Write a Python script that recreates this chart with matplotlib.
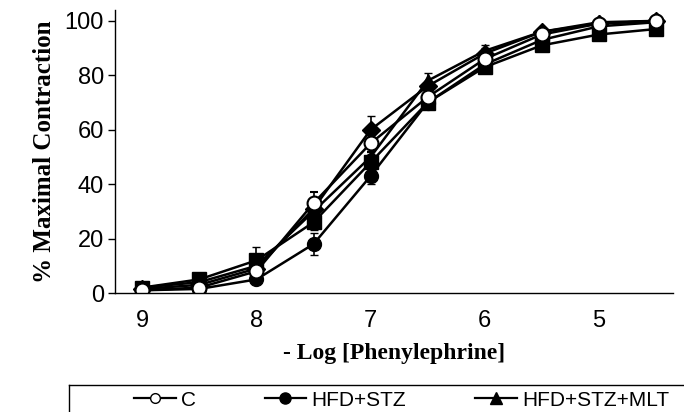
import matplotlib.pyplot as plt
from matplotlib.lines import Line2D

# -log concentration of phenylephrine
log_conc = [9, 8.5, 8, 7.5, 7, 6.5, 6, 5.5, 5, 4.5]

# % maximal contraction
c_vals = [1, 2, 8, 33, 55, 72, 86, 95, 99, 100]
hfd_stz = [1, 1.5, 5, 18, 43, 70, 84, 93, 98, 99.5]
hfd_stz_mlt = [2, 4, 10, 30, 50, 78, 89, 96, 99.5, 100]
sq_vals = [2, 5, 12, 26, 48, 70, 83, 91, 95, 97]
dia_vals = [1.5, 3, 9, 31, 60, 76, 88, 96, 99, 100]

c_err = [0.5, 1, 1, 4, 3, 2, 2, 1, 1, 0.5]
hfd_stz_err = [0.5, 1, 1, 4, 3, 2, 2, 1, 1, 0.5]
hfd_stz_mlt_err = [0.5, 1, 2, 3, 3, 3, 2, 1, 1, 0.5]
sq_err = [0.5, 1, 5, 3, 3, 2, 2, 2, 1, 1]
dia_err = [0.5, 1, 2, 3, 5, 2, 2, 1, 1, 0.5]

y_ticks = [0, 20, 40, 60, 80, 100]
x_ticks = [9, 8, 7, 6, 5]

fig = plt.figure(figsize=(6.84, 4.12), dpi=100)
ax = fig.add_axes([115 / 684, 1 - 293 / 412, (673 - 115) / 684, (293 - 10) / 412])

common = dict(color='black', linewidth=1.8, capsize=3, elinewidth=1.2, markersize=10)
ax.errorbar(log_conc, sq_vals, yerr=sq_err, marker='s', mfc='black', mec='black', **common)
ax.errorbar(log_conc, dia_vals, yerr=dia_err, marker='D', mfc='black', mec='black',
            **{**common, 'markersize': 9})
ax.errorbar(log_conc, hfd_stz_mlt, yerr=hfd_stz_mlt_err, marker='^', mfc='black', mec='black', **common)
ax.errorbar(log_conc, hfd_stz, yerr=hfd_stz_err, marker='o', mfc='black', mec='black', **common)
ax.errorbar(log_conc, c_vals, yerr=c_err, marker='o', mfc='white', mec='black',
            markeredgewidth=1.5, **common)

ax.set_xlim(9.24, 4.35)
ax.set_ylim(0, 104)
ax.set_xticks(x_ticks)
ax.set_xticklabels([str(v) for v in x_ticks])
ax.set_yticks(y_ticks)

for s in ['top', 'right']:
    ax.spines[s].set_visible(False)
ax.spines['left'].set_linewidth(1.0)
ax.spines['bottom'].set_linewidth(1.0)

ax.tick_params(axis='y', direction='out', length=5, width=1, pad=3, labelsize=17)
ax.tick_params(axis='x', length=0, pad=12, labelsize=17)
for lab in ax.get_xticklabels() + ax.get_yticklabels():
    lab.set_fontfamily('Liberation Sans')

ax.set_xlabel('- Log [Phenylephrine]', fontsize=17, fontweight='bold',
              fontfamily='Liberation Serif', labelpad=8)
ax.set_ylabel('% Maximal Contraction', fontsize=18, fontweight='bold',
              fontfamily='Liberation Serif', labelpad=6)

# legend (frame is cut off by the bottom edge of the image)
handles = [
    Line2D([], [], color='black', linewidth=1.6, marker='o', mfc='white', mec='black', markersize=7),
    Line2D([], [], color='black', linewidth=1.6, marker='o', mfc='black', mec='black', markersize=8),
    Line2D([], [], color='black', linewidth=1.6, marker='^', mfc='black', mec='black', markersize=8),
]
labels = ['C', 'HFD+STZ', 'HFD+STZ+MLT']
fig.legend(handles, labels, loc='center left', bbox_to_anchor=(134 / 684, 1 - 400 / 412),
           ncol=3, frameon=False, borderpad=0, borderaxespad=0, handlelength=2.0,
           handletextpad=0.25, columnspacing=3.3,
           prop={'family': 'Liberation Sans', 'size': 15})

fig.add_artist(Line2D([69 / 684, 1], [1 - 385 / 412, 1 - 385 / 412], color='black', linewidth=1,
                      transform=fig.transFigure))
fig.add_artist(Line2D([69 / 684, 69 / 684], [1 - 385 / 412, 0], color='black', linewidth=1,
                      transform=fig.transFigure))

fig.savefig('out.png', dpi=100)
